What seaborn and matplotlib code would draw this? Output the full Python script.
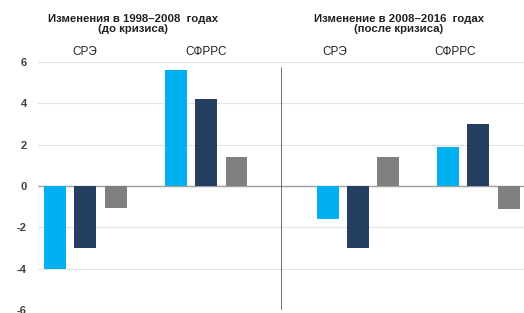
import pandas as pd
import matplotlib
matplotlib.use("Agg")
import matplotlib.pyplot as plt
import seaborn as sns

# data
categories = ["СРЭ", "СФРРС"]
series = ["Ряд 1", "Ряд 2", "Ряд 3"]
before_sre = [-4.0, -3.0, -1.05]
before_sfrrs = [5.6, 4.2, 1.4]
after_sre = [-1.6, -3.0, 1.4]
after_sfrrs = [1.9, 3.0, -1.1]
titles = ["Изменения в 1998–2008  годах\n(до кризиса)",
          "Изменение в 2008–2016  годах\n(после кризиса)"]
yticks = [-6, -4, -2, 0, 2, 4, 6]
colors = ["#00B0F0", "#243F60", "#808080"]


def make_frame(sre, sfrrs):
    rows = []
    for cat, vals in zip(categories, [sre, sfrrs]):
        for s, v in zip(series, vals):
            rows.append({"category": cat, "series": s, "value": v})
    return pd.DataFrame(rows)


sns.set_style("white")
plt.rcParams['font.family'] = ['Liberation Sans', 'DejaVu Sans']
plt.rcParams['axes.unicode_minus'] = False

fig = plt.figure(figsize=(5.24, 3.13), dpi=100)
bottom = 3 / 313
height = (310 - 62) / 313
ax1 = fig.add_axes([38 / 524, bottom, 243 / 524, height])
ax2 = fig.add_axes([281 / 524, bottom, 243 / 524, height], sharey=ax1)

frames = [make_frame(before_sre, before_sfrrs), make_frame(after_sre, after_sfrrs)]
xlims = [(-0.39, 1.62), (-0.64, 1.38)]
label_shift = [0.0, -0.19]

for ax, df, xl, shift in zip([ax1, ax2], frames, xlims, label_shift):
    ax.axhline(0, color="#a0a0a0", lw=1, zorder=2)
    sns.barplot(data=df, x="category", y="value", hue="series", order=categories,
                hue_order=series, palette=colors, width=0.756, gap=0.28,
                saturation=1, legend=False, ax=ax, zorder=3, linewidth=0)
    ax.set_xlim(*xl)
    ax.set_ylim(-6, 6)
    ax.set_yticks(yticks)
    ax.yaxis.grid(True, color="#e3e3e3", lw=0.8, zorder=0)
    ax.set_axisbelow(True)
    for sp in ax.spines.values():
        sp.set_visible(False)
    ax.set_xlabel("")
    ax.set_ylabel("")
    ax.set_xticks([])
    for i, cat in enumerate(categories):
        ax.text(i + shift, 1.04, cat, transform=ax.get_xaxis_transform(),
                ha="center", va="center", fontsize=8.5, color="#222222")

ax1.tick_params(axis="y", length=0, pad=8, labelsize=8, labelcolor="#404040")
for t in ax1.get_yticklabels():
    t.set_fontweight("bold")
ax2.tick_params(axis="y", left=False, labelleft=False)
ax2.axvline(ax2.get_xlim()[0], ymin=0, ymax=0.976, color="#555555", lw=1.2, zorder=4)

fig.text(133 / 524, 1 - 24 / 313, titles[0], ha="center", va="center",
         fontsize=8.2, fontweight="bold", color="#222222", linespacing=1.1)
fig.text(399 / 524, 1 - 24 / 313, titles[1], ha="center", va="center",
         fontsize=8.2, fontweight="bold", color="#222222", linespacing=1.1)

fig.savefig("out.png", dpi=100)
